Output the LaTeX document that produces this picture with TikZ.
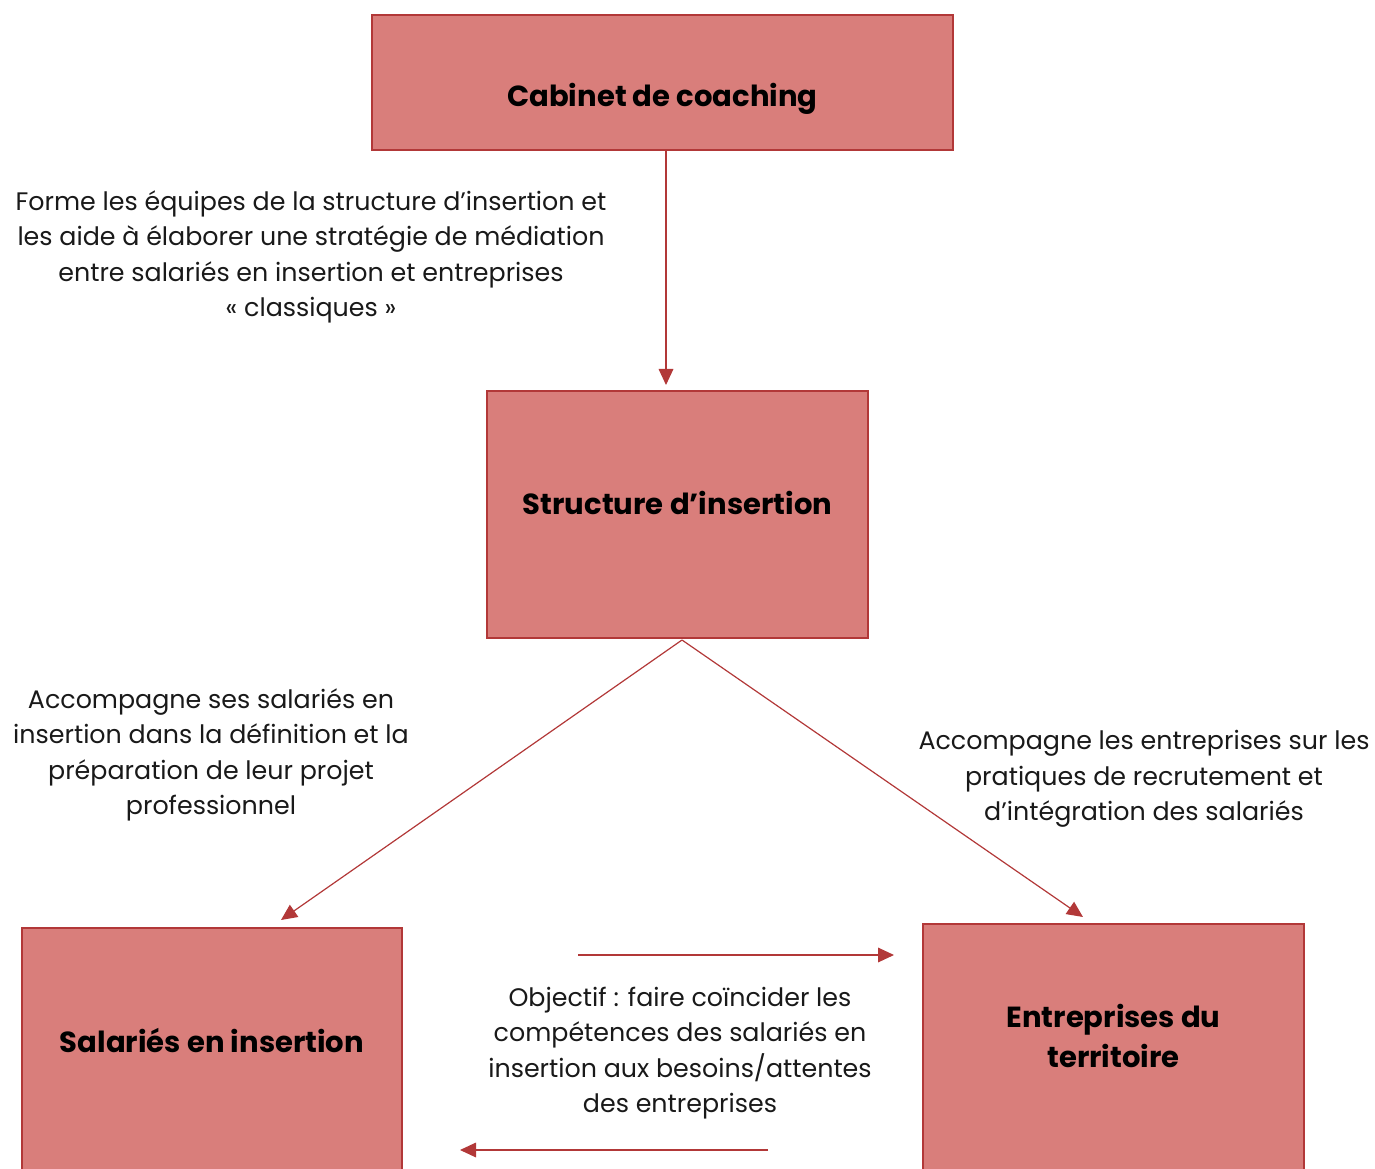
\documentclass[tikz,border=0pt]{standalone}
\usepackage{fontspec}
\setmainfont{Poppins}
\usetikzlibrary{arrows.meta,calc}
\definecolor{boxfill}{RGB}{217,126,123}
\definecolor{linered}{RGB}{178,56,56}
\tikzset{
  box/.style={draw=linered, fill=boxfill, line width=2pt, inner sep=0pt, outer sep=0pt, rectangle},
  boxtxt/.style={font=\fontsize{21.8}{30}\selectfont\bfseries, align=center, inner sep=0pt},
  desc/.style={font=\fontsize{19}{26.6}\selectfont, align=center, inner sep=0pt, text=black!90},
  arr/.style={draw=linered, line width=0.9pt, -{Triangle[length=12pt,width=11pt]}},
}
\begin{document}
\begin{tikzpicture}[x=0.75pt,y=-0.75pt]
\useasboundingbox (0,0) rectangle (1375,1169);
% boxes
\node[box, minimum width={581*0.75pt}, minimum height={135*0.75pt},
  label={[boxtxt, yshift=-12.2pt]center:Cabinet de coaching}] (cab) at (662.5,82.5) {};
\node[box, minimum width={381*0.75pt}, minimum height={247*0.75pt},
  label={[boxtxt, yshift=8.5pt]center:Structure d’insertion}] (struct) at (677.5,514.5) {};
\node[box, minimum width={380*0.75pt}, minimum height={260*0.75pt},
  label={[boxtxt, yshift=13.5pt]center:Salariés en insertion}] (sal) at (212,1058) {};
\node[box, minimum width={381*0.75pt}, minimum height={264*0.75pt},
  label={[boxtxt, yshift=15pt]center:Entreprises du\\territoire}] (ent) at (1113.5,1056) {};
% descriptions
\node[desc] (d1) at (311,257) {Forme les équipes de la structure d’insertion et\\les aide à élaborer une stratégie de médiation\\entre salariés en insertion et entreprises\\« classiques »};
\node[desc] (d2) at (211,755) {Accompagne ses salariés en\\insertion dans la définition et la\\préparation de leur projet\\professionnel};
\node[desc] (d3) at (1144,779) {Accompagne les entreprises sur les\\pratiques de recrutement et\\d’intégration des salariés};
\node[desc] (d4) at (680,1053) {Objectif : faire coïncider les\\compétences des salariés en\\insertion aux besoins/attentes\\des entreprises};
% connectors
\coordinate (cx) at (666,0);
\draw[arr, shorten >=4.5pt] (cab.south -| cx) -- (struct.north -| cx);
\coordinate (stb) at (682,640);
\coordinate (salin) at (281,920);
\coordinate (entin) at (1083,917);
\draw[arr] (stb) -- (salin);
\draw[arr] (stb) -- (entin);
\coordinate (h1a) at (578,955);
\coordinate (h1b) at (894,955);
\coordinate (h2a) at (768,1150);
\coordinate (h2b) at (460,1150);
\draw[arr] (h1a) -- (h1b);
\draw[arr] (h2a) -- (h2b);
\end{tikzpicture}
\end{document}
